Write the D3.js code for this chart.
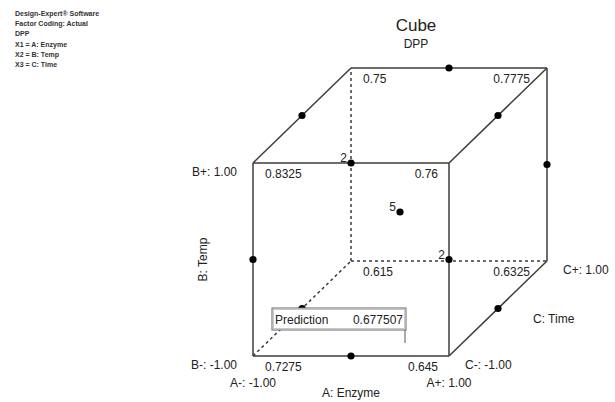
<!DOCTYPE html>
<html>
<head>
<meta charset="utf-8">
<script src="https://cdn.jsdelivr.net/npm/d3@7"></script>
<style>
  html, body { margin: 0; padding: 0; background: #fff; }
  svg { display: block; font-family: 'Liberation Sans', Arial, sans-serif; }
</style>
</head>
<body>
<svg id="chart" width="615" height="402"></svg>
<script>
// header notes (top left)
const infoLines = [
  'Design-Expert® Software',
  'Factor Coding: Actual',
  'DPP',
  'X1 = A: Enzyme',
  'X2 = B: Temp',
  'X3 = C: Time',
];

const chartTitle = 'Cube';
const chartSubtitle = 'DPP';

// cube corners (coded levels) and the response at each
const cornerA = [-1, 1, -1, 1, -1, 1, -1, 1];
const cornerB = [-1, -1, 1, 1, -1, -1, 1, 1];
const cornerC = [-1, -1, -1, -1, 1, 1, 1, 1];
const cornerValues = ['0.7275', '0.645', '0.8325', '0.76', '0.615', '0.6325', '0.75', '0.7775'];

// design points off the corners, with replicate counts
const pointA = [0, -1, 1, 1, 0, 0, 1, -1, 0, 1, -1];
const pointB = [1, 1, 1, 0, 1, 0, 0, 0, -1, -1, -1];
const pointC = [1, 0, 0, 1, -1, 0, -1, -1, -1, 0, 0];
const pointCounts = [1, 1, 1, 1, 2, 5, 2, 1, 1, 1, 1];

// factor level labels
const levelA = ['A-: -1.00', 'A+: 1.00'];
const levelB = ['B-: -1.00', 'B+: 1.00'];
const levelC = ['C-: -1.00', 'C+: 1.00'];
const axisTitles = ['A: Enzyme', 'B: Temp', 'C: Time'];

const predictionLabel = 'Prediction';
const predictionValue = '0.677507';

const lineColor = '#3c3c3c';
const textColor = '#222';
const dotRadius = 3.6;

const svg = d3.select('#chart');

const x = d3.scaleLinear().domain([-1, 1]).range([253, 449]);
const y = d3.scaleLinear().domain([-1, 1]).range([356, 163]);
const depth = d3.scaleLinear().domain([-1, 1]).range([0, 1]);
const depthDx = 98;
const depthDy = -95;

const px = (a, c) => x(a) + depth(c) * depthDx;
const py = (b, c) => y(b) + depth(c) * depthDy;

const corners = cornerA.map((a, i) => ({ a, b: cornerB[i], c: cornerC[i], value: cornerValues[i] }));
const isHidden = (p) => p.a === -1 && p.b === -1 && p.c === 1;

// edges: corner pairs that differ in exactly one factor
const edges = [];
corners.forEach((p, i) => {
  corners.forEach((q, j) => {
    if (j <= i) return;
    const diff = (p.a !== q.a) + (p.b !== q.b) + (p.c !== q.c);
    if (diff === 1) edges.push({ source: p, target: q, dashed: isHidden(p) || isHidden(q) });
  });
});

// header notes
svg.append('g')
  .selectAll('text')
  .data(infoLines)
  .join('text')
  .attr('x', 15)
  .attr('y', (d, i) => 16 + i * 10.2)
  .attr('font-size', 7)
  .attr('font-weight', 'bold')
  .attr('fill', '#333')
  .text((d) => d);

// title
svg.append('text')
  .attr('x', 416)
  .attr('y', 31)
  .attr('text-anchor', 'middle')
  .attr('font-size', 17)
  .attr('fill', textColor)
  .text(chartTitle);

svg.append('text')
  .attr('x', 416)
  .attr('y', 48)
  .attr('text-anchor', 'middle')
  .attr('font-size', 12)
  .attr('fill', textColor)
  .text(chartSubtitle);

// cube edges
svg.append('g')
  .selectAll('line')
  .data(edges)
  .join('line')
  .attr('x1', (e) => px(e.source.a, e.source.c))
  .attr('y1', (e) => py(e.source.b, e.source.c))
  .attr('x2', (e) => px(e.target.a, e.target.c))
  .attr('y2', (e) => py(e.target.b, e.target.c))
  .attr('stroke', lineColor)
  .attr('stroke-width', 1.5)
  .attr('stroke-dasharray', (e) => (e.dashed ? '3,3' : null));

// corner responses
svg.append('g')
  .selectAll('text')
  .data(corners)
  .join('text')
  .attr('x', (p) => px(p.a, p.c) + (p.a < 0 ? 12 : p.c > 0 ? -17 : -11))
  .attr('y', (p) => py(p.b, p.c) + 15)
  .attr('text-anchor', (p) => (p.a < 0 ? 'start' : 'end'))
  .attr('font-size', 12)
  .attr('fill', textColor)
  .text((p) => p.value);

// design points
const points = pointA.map((a, i) => ({ a, b: pointB[i], c: pointC[i], count: pointCounts[i] }));

svg.append('g')
  .selectAll('circle')
  .data(points)
  .join('circle')
  .attr('cx', (p) => px(p.a, p.c))
  .attr('cy', (p) => py(p.b, p.c))
  .attr('r', dotRadius)
  .attr('fill', '#000');

svg.append('g')
  .selectAll('text')
  .data(points.filter((p) => p.count > 1))
  .join('text')
  .attr('x', (p) => px(p.a, p.c) - 4)
  .attr('y', (p) => py(p.b, p.c) - 1)
  .attr('text-anchor', 'end')
  .attr('font-size', 12)
  .attr('fill', textColor)
  .text((p) => p.count);

// factor level labels
const labels = svg.append('g').attr('font-size', 12).attr('fill', textColor);

labels.selectAll('.lvl-a')
  .data(levelA)
  .join('text')
  .attr('class', 'lvl-a')
  .attr('x', (d, i) => x(i * 2 - 1))
  .attr('y', y(-1) + 31)
  .attr('text-anchor', 'middle')
  .text((d) => d);

labels.selectAll('.lvl-b')
  .data(levelB)
  .join('text')
  .attr('class', 'lvl-b')
  .attr('x', x(-1) - 16)
  .attr('y', (d, i) => y(i * 2 - 1) + 13)
  .attr('text-anchor', 'end')
  .text((d) => d);

labels.selectAll('.lvl-c')
  .data(levelC)
  .join('text')
  .attr('class', 'lvl-c')
  .attr('x', (d, i) => px(1, i * 2 - 1) + 16)
  .attr('y', (d, i) => py(-1, i * 2 - 1) + 13)
  .attr('text-anchor', 'start')
  .text((d) => d);

labels.append('text')
  .attr('x', (x(-1) + x(1)) / 2)
  .attr('y', y(-1) + 41)
  .attr('text-anchor', 'middle')
  .text(axisTitles[0]);

labels.append('text')
  .attr('transform', `translate(${x(-1) - 46},${(y(-1) + y(1)) / 2}) rotate(-90)`)
  .attr('text-anchor', 'middle')
  .text(axisTitles[1]);

labels.append('text')
  .attr('x', px(1, 0) + 35)
  .attr('y', py(-1, 0) + 14)
  .attr('text-anchor', 'start')
  .text(axisTitles[2]);

// prediction flag
const flag = svg.append('g');
flag.append('line')
  .attr('x1', 405).attr('x2', 405)
  .attr('y1', 330).attr('y2', 343)
  .attr('stroke', '#555')
  .attr('stroke-width', 1);
flag.append('rect')
  .attr('x', 272).attr('y', 308)
  .attr('width', 134).attr('height', 22)
  .attr('fill', '#fff')
  .attr('stroke', '#666')
  .attr('stroke-width', 1);
flag.append('rect')
  .attr('x', 273.5).attr('y', 309.5)
  .attr('width', 131).attr('height', 19)
  .attr('fill', 'none')
  .attr('stroke', '#bbb')
  .attr('stroke-width', 0.8);
flag.append('text')
  .attr('x', 275).attr('y', 324)
  .attr('font-size', 12)
  .attr('fill', textColor)
  .text(predictionLabel);
flag.append('text')
  .attr('x', 403).attr('y', 324)
  .attr('text-anchor', 'end')
  .attr('font-size', 12)
  .attr('fill', textColor)
  .text(predictionValue);
</script>
</body>
</html>
